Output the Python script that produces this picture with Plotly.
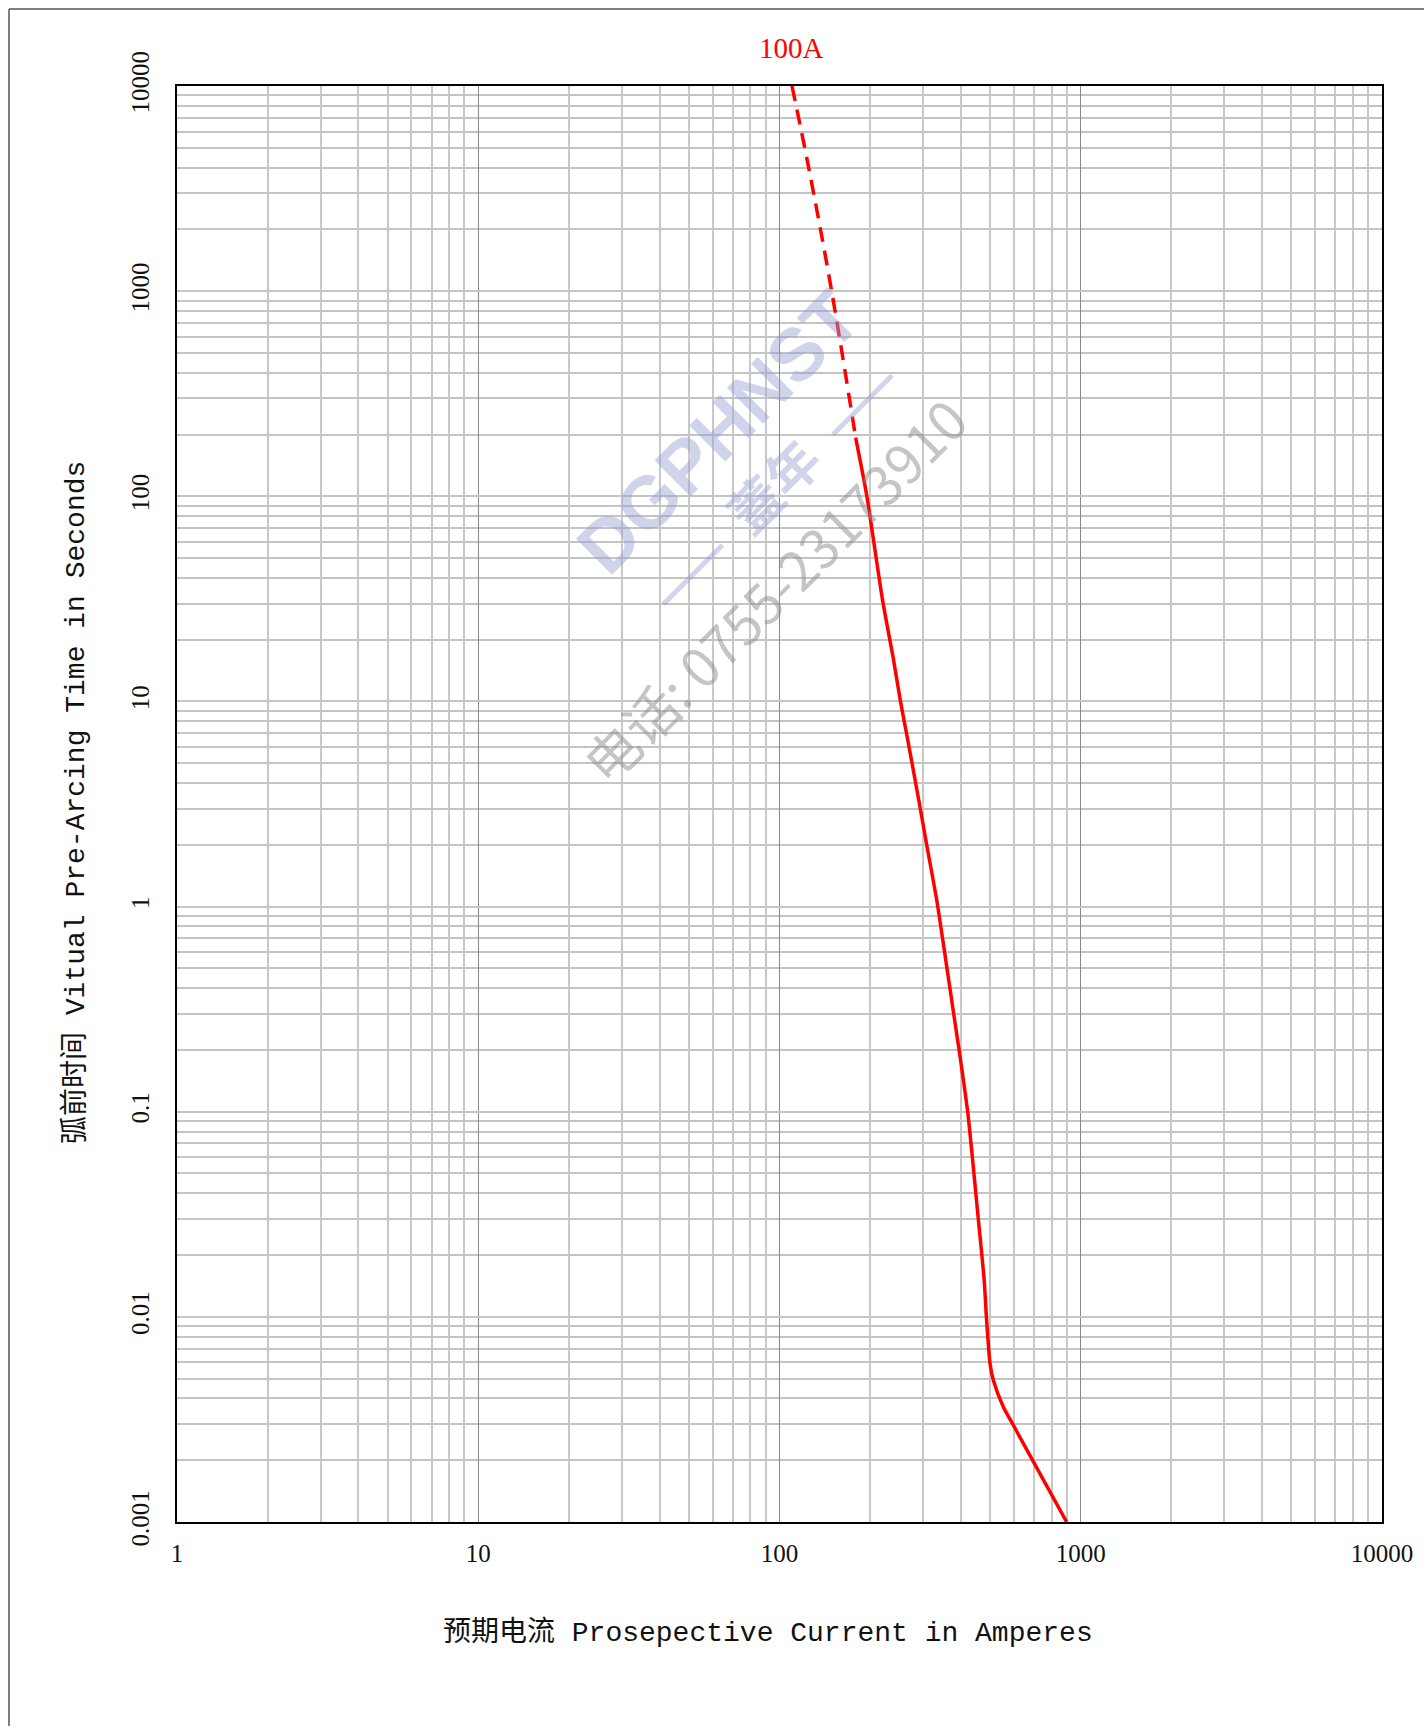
import math
import plotly.graph_objects as go

# ---- data ----
dashed_current = [110, 125, 149, 179]
dashed_time = [10000, 4000, 1000, 193]

solid_current = [179, 195, 220, 239, 251.5, 264, 290, 308, 332.5, 355, 375, 396, 422,
                 458, 478, 487, 500, 513, 553, 597, 696, 898]
solid_time = [193, 100, 31, 16, 10.2, 7, 3.3, 2.0, 1.08, 0.57, 0.33, 0.193, 0.098,
              0.029, 0.0151, 0.0096, 0.0059, 0.0049, 0.00365, 0.00297, 0.00197, 0.001]

x_major = [1, 10, 100, 1000, 10000]
x_major_labels = ["1", "10", "100", "1000", "10000"]
y_major = [0.001, 0.01, 0.1, 1, 10, 100, 1000, 10000]
y_major_labels = ["0.001", "0.01", "0.1", "1", "10", "100", "1000", "10000"]

x_minor = [m * d for d in [1, 10, 100, 1000] for m in range(2, 10)]
y_minor = [m * d for d in [0.001, 0.01, 0.1, 1, 10, 100, 1000] for m in range(2, 10)]

rating_label = "100A"
x_title = "预期电流 Prosepective Current in Amperes"
y_title = "弧前时间 Vitual Pre-Arcing Time in Seconds"

RED = "#ff0000"

fig = go.Figure()
fig.add_trace(go.Scatter(
    x=dashed_current, y=dashed_time, mode="lines",
    line=dict(color=RED, width=3.5, dash="15px,9px", shape="spline"),
    hoverinfo="skip", showlegend=False))
fig.add_trace(go.Scatter(
    x=solid_current, y=solid_time, mode="lines",
    line=dict(color=RED, width=3.5, shape="spline", smoothing=0.6),
    showlegend=False))

tick_font = dict(family="Liberation Serif, Times New Roman, serif", size=25, color="#111")
title_font = dict(family="Liberation Mono, Noto Sans CJK SC, monospace", size=28, color="#111")

fig.update_xaxes(
    type="log", range=[0, 4],
    tickmode="array", tickvals=x_major, ticktext=x_major_labels,
    showgrid=True, gridcolor="#8a8a8a", gridwidth=1,
    minor=dict(tickmode="array", tickvals=x_minor, showgrid=True,
               gridcolor="#c8c8c8", gridwidth=1.5, ticks=""),
    showline=True, linecolor="black", linewidth=1.5, mirror=True,
    ticks="", tickfont=tick_font, zeroline=False, ticklabelstandoff=8,
)
fig.update_yaxes(
    type="log", range=[-3, 4],
    tickmode="array", tickvals=y_major, ticktext=y_major_labels,
    showgrid=True, gridcolor="#c4c4c4", gridwidth=2,
    minor=dict(tickmode="array", tickvals=y_minor, showgrid=True,
               gridcolor="#c4c4c4", gridwidth=2, ticks=""),
    showline=True, linecolor="black", linewidth=1.5, mirror=True,
    ticks="", tickfont=tick_font, tickangle=-90, zeroline=False, ticklabelstandoff=16,
)

W, H = 1424, 1726
L, R, T, B = 177, 42, 86, 204
pw, ph = W - L - R, H - T - B

def px(xpix):
    return (xpix - L) / pw

def py(ypix):
    return (H - B - ypix) / ph

wm_blue = "rgba(150,160,210,0.45)"
annotations = [
    dict(text=rating_label, xref="x", yref="paper", x=math.log10(dashed_current[0]), y=py(48),
         showarrow=False, xanchor="center", yanchor="middle",
         font=dict(family="Liberation Serif, Times New Roman, serif", size=29, color=RED)),
    dict(text=x_title, xref="paper", yref="paper", x=px(768), y=py(1632),
         showarrow=False, xanchor="center", yanchor="middle", font=title_font),
    dict(text=y_title, xref="paper", yref="paper", x=px(75), y=py(803),
         showarrow=False, xanchor="center", yanchor="middle", textangle=-90, font=title_font),
    # watermark
    dict(text="<b>DGPHNST</b>", xref="paper", yref="paper", x=px(718), y=py(432),
         showarrow=False, textangle=-45, xanchor="center", yanchor="middle",
         font=dict(family="Liberation Sans, Arial, sans-serif", size=74, color=wm_blue)),
    dict(text="<b>——  蓋年  ——</b>", xref="paper", yref="paper", x=px(772), y=py(484),
         showarrow=False, textangle=-45, xanchor="center", yanchor="middle",
         font=dict(family="Noto Sans CJK SC, sans-serif", size=52, color=wm_blue)),
    dict(text="电话: 0755-23173910", xref="paper", yref="paper", x=px(773), y=py(589),
         showarrow=False, textangle=-45, xanchor="center", yanchor="middle",
         font=dict(family="Noto Sans CJK SC, Liberation Sans, sans-serif", size=54,
                   color="rgba(140,140,140,0.5)")),
]

shapes = [
    dict(type="line", xref="paper", yref="paper", x0=px(9), x1=px(W + 50), y0=py(9), y1=py(9),
         line=dict(color="#555", width=1.5)),
    dict(type="line", xref="paper", yref="paper", x0=px(9), x1=px(9), y0=py(9), y1=py(H + 50),
         line=dict(color="#555", width=1.5)),
]

fig.update_layout(
    width=W, height=H,
    margin=dict(l=L, r=R, t=T, b=B, pad=0),
    paper_bgcolor="white", plot_bgcolor="white",
    annotations=annotations, shapes=shapes,
    showlegend=False,
)

fig.write_html("out.html", config={"displayModeBar": False},
               post_script="document.body.style.margin='0';")
